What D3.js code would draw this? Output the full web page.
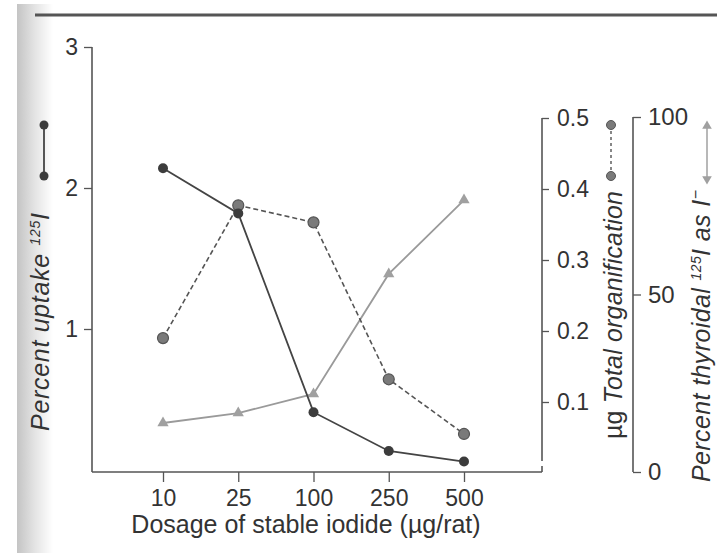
<!DOCTYPE html>
<html><head><meta charset="utf-8">
<script src="https://cdn.jsdelivr.net/npm/d3@7"></script>
<style>
body{margin:0;background:#fff;}
svg{display:block;font-family:"Liberation Sans",Arial,sans-serif;}
</style></head>
<body><svg id="c" width="717" height="553"></svg>
<script>
const dosages = ["10","25","100","250","500"];
const uptake = [2.14, 1.82, 0.41, 0.135, 0.06];
const organification = [0.19, 0.377, 0.353, 0.132, 0.055];
const thyroidalI = [13.8, 16.6, 22, 55.8, 76.6];
const leftTicks = [1,2,3];
const midTicks = [0.1,0.2,0.3,0.4,0.5];
const rightTicks = [0,50,100];

const svg = d3.select("#c");
const defs = svg.append("defs");
const g = defs.append("linearGradient").attr("id","scan").attr("x1","0").attr("x2","1");
g.append("stop").attr("offset","0").attr("stop-color","#c4c4c4");
g.append("stop").attr("offset","0.5").attr("stop-color","#e4e4e4");
g.append("stop").attr("offset","1").attr("stop-color","#ffffff");
svg.append("rect").attr("x",17).attr("y",4).attr("width",36).attr("height",549).attr("fill","url(#scan)");
svg.append("line").attr("x1",35).attr("x2",717).attr("y1",15).attr("y2",15).attr("stroke","#555").attr("stroke-width",3);

const x = d3.scalePoint().domain(dosages).range([163,464]);
const yL = d3.scaleLinear().domain([0,3]).range([470,47]);
const yM = d3.scaleLinear().domain([0,0.5]).range([473,118]);
const yR = d3.scaleLinear().domain([0,100]).range([472,117]);

const axCol = "#555", txtCol = "#333";
function styleAxis(size){
  return sel => {
    sel.selectAll("path.domain").remove();
    sel.selectAll(".tick line").attr("stroke",axCol).attr("stroke-width",1.3);
    sel.selectAll(".tick text").attr("fill",txtCol).attr("font-size",size);
  };
}
// axes lines
svg.append("line").attr("x1",92).attr("x2",92).attr("y1",47).attr("y2",472).attr("stroke",axCol).attr("stroke-width",1.6);
svg.append("line").attr("x1",92).attr("x2",542).attr("y1",472).attr("y2",472).attr("stroke",axCol).attr("stroke-width",1.6);
svg.append("line").attr("x1",542).attr("x2",542).attr("y1",466).attr("y2",472).attr("stroke",axCol).attr("stroke-width",1.6);
svg.append("line").attr("x1",542).attr("x2",542).attr("y1",118).attr("y2",461).attr("stroke",axCol).attr("stroke-width",1.6);
svg.append("line").attr("x1",633).attr("x2",633).attr("y1",117).attr("y2",472).attr("stroke",axCol).attr("stroke-width",1.6);

svg.append("g").attr("transform","translate(92,0)")
  .call(d3.axisLeft(yL).tickValues(leftTicks).tickSize(8).tickPadding(6).tickFormat(d3.format("d")))
  .call(styleAxis(23));
svg.append("g").attr("transform","translate(542,0)")
  .call(d3.axisRight(yM).tickValues(midTicks).tickSize(7).tickPadding(8).tickFormat(d3.format(".1f")))
  .call(styleAxis(23));
svg.append("g").attr("transform","translate(633,0)")
  .call(d3.axisRight(yR).tickValues(rightTicks).tickSize(8).tickPadding(7).tickFormat(d3.format("d")))
  .call(styleAxis(24));
svg.append("g").attr("transform","translate(0,472)")
  .call(d3.axisBottom(x).tickSize(10).tickPadding(8))
  .call(styleAxis(23));

// series 3: thyroidal (light gray, triangles)
const tri = d3.symbol().type(d3.symbolTriangle).size(55);
svg.append("path").datum(thyroidalI)
  .attr("d", d3.line().x((d,i)=>x(dosages[i])).y(d=>yR(d)))
  .attr("fill","none").attr("stroke","#9a9a9a").attr("stroke-width",1.8);
svg.selectAll(".tri").data(thyroidalI).enter().append("path")
  .attr("transform",(d,i)=>`translate(${x(dosages[i])},${yR(d)})`)
  .attr("d",tri).attr("fill","#a0a0a0");

// series 2: organification (dashed, gray dots)
svg.append("path").datum(organification)
  .attr("d", d3.line().x((d,i)=>x(dosages[i])).y(d=>yM(d)))
  .attr("fill","none").attr("stroke","#555").attr("stroke-width",1.6).attr("stroke-dasharray","5,3");
svg.selectAll(".org").data(organification).enter().append("circle")
  .attr("cx",(d,i)=>x(dosages[i])).attr("cy",d=>yM(d)).attr("r",5.5)
  .attr("fill","#7a7a7a").attr("stroke","#555").attr("stroke-width",1.2);

// series 1: uptake (solid, dark dots)
svg.append("path").datum(uptake)
  .attr("d", d3.line().x((d,i)=>x(dosages[i])).y(d=>yL(d)))
  .attr("fill","none").attr("stroke","#444").attr("stroke-width",1.8);
svg.selectAll(".upt").data(uptake).enter().append("circle")
  .attr("cx",(d,i)=>x(dosages[i])).attr("cy",d=>yL(d)).attr("r",5)
  .attr("fill","#3c3c3c");

// x title
svg.append("text").attr("x",306).attr("y",533).attr("text-anchor","middle")
  .attr("font-size",25).attr("fill",txtCol).text("Dosage of stable iodide (µg/rat)");

// left title + legend
const t1 = svg.append("text").attr("transform","translate(49,322) rotate(-90)")
  .attr("text-anchor","middle").attr("font-size",25).attr("font-style","italic").attr("fill",txtCol)
  .attr("textLength",218).attr("lengthAdjust","spacing");
t1.append("tspan").text("Percent uptake ");
t1.append("tspan").attr("font-size",14).attr("dy",-9).text("125");
t1.append("tspan").attr("dy",9).text("I");
svg.append("line").attr("x1",44).attr("x2",44).attr("y1",125).attr("y2",176).attr("stroke","#444").attr("stroke-width",1.8);
svg.append("circle").attr("cx",44).attr("cy",125).attr("r",4.5).attr("fill","#3c3c3c");
svg.append("circle").attr("cx",44).attr("cy",176).attr("r",4.5).attr("fill","#3c3c3c");

// middle title + legend
const t2 = svg.append("text").attr("transform","translate(622,315) rotate(-90)")
  .attr("text-anchor","middle").attr("font-size",25).attr("font-style","italic").attr("fill",txtCol)
  .attr("textLength",248).attr("lengthAdjust","spacing");
t2.append("tspan").attr("font-style","normal").text("µg");
t2.append("tspan").text(" Total organification");
svg.append("line").attr("x1",611).attr("x2",611).attr("y1",125).attr("y2",176).attr("stroke","#555").attr("stroke-width",1.4).attr("stroke-dasharray","3,3");
svg.append("circle").attr("cx",611).attr("cy",125).attr("r",4.5).attr("fill","#7a7a7a").attr("stroke","#555");
svg.append("circle").attr("cx",611).attr("cy",176).attr("r",4.5).attr("fill","#7a7a7a").attr("stroke","#555");

// right title + legend
const t3 = svg.append("text").attr("transform","translate(710,336) rotate(-90)")
  .attr("text-anchor","middle").attr("font-size",25).attr("font-style","italic").attr("fill",txtCol)
  .attr("textLength",292).attr("lengthAdjust","spacing");
t3.append("tspan").text("Percent thyroidal ");
t3.append("tspan").attr("font-size",14).attr("dy",-9).text("125");
t3.append("tspan").attr("dy",9).text("I as I");
t3.append("tspan").attr("dy",-9).attr("font-size",16).text("−");
svg.append("line").attr("x1",707).attr("x2",707).attr("y1",127).attr("y2",178).attr("stroke","#9a9a9a").attr("stroke-width",1.4);
svg.append("path").attr("transform","translate(707,126)").attr("d",d3.symbol().type(d3.symbolTriangle).size(40)).attr("fill","#a0a0a0");
svg.append("path").attr("transform","translate(707,179) rotate(180)").attr("d",d3.symbol().type(d3.symbolTriangle).size(40)).attr("fill","#a0a0a0");
</script></body></html>
